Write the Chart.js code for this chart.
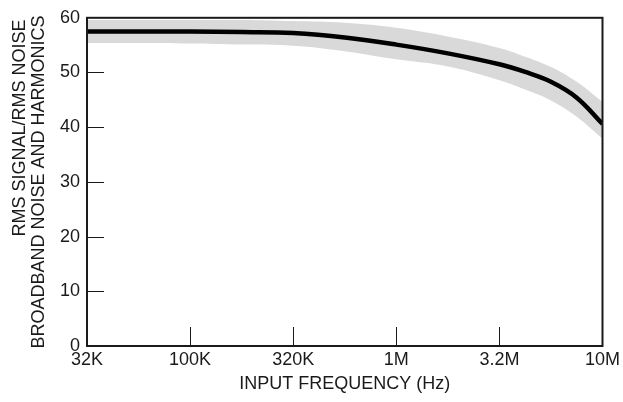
<!DOCTYPE html>
<html>
<head>
<meta charset="utf-8">
<script src="https://cdn.jsdelivr.net/npm/chart.js@4/dist/chart.umd.min.js"></script>
<style>
  body { margin: 0; background: #fff; }
  #wrap { width: 623px; height: 402px; }
</style>
</head>
<body>
<div id="wrap"><canvas id="snr" width="623" height="402"></canvas></div>
<script>
// frequencies (Hz): quarter decades, eighth decades above 3.2M
const freqs = [31623, 56234, 100000, 177828, 316228, 562341, 1000000, 1778279, 3162278, 4216965, 5623413, 7498942, 10000000];
const snrTypical = [57.5, 57.5, 57.5, 57.4, 57.2, 56.4, 55.1, 53.5, 51.5, 50.1, 48.3, 45.4, 40.6];
const snrUpper = [59.6, 59.6, 59.6, 59.6, 59.4, 59.1, 58.2, 56.6, 54.5, 52.9, 51.0, 48.3, 44.6];
const snrLower = [55.4, 55.4, 55.3, 55.1, 54.9, 53.9, 52.4, 51.1, 48.6, 46.9, 44.9, 41.9, 37.9];

const xTickValues = [31623, 100000, 316228, 1000000, 3162278, 10000000];
const xTickLabels = ['32K', '100K', '320K', '1M', '3.2M', '10M'];
const yTitleLines = ['RMS SIGNAL/RMS NOISE', 'BROADBAND NOISE AND HARMONICS'];

const FONT = "'Liberation Sans', Arial, sans-serif";
const INK = '#1a1a1a';

const pts = arr => arr.map((v, i) => ({ x: freqs[i], y: v }));

// inside ticks, frame and the two-line y title
const framePlugin = {
  id: 'frame',
  afterDraw(chart) {
    const { ctx, chartArea: a, scales } = chart;
    ctx.save();
    ctx.strokeStyle = INK;
    ctx.lineWidth = 1;
    ctx.beginPath();
    xTickValues.slice(1, -1).forEach(v => {
      const px = Math.round(scales.x.getPixelForValue(v)) + 0.5;
      ctx.moveTo(px, a.bottom);
      ctx.lineTo(px, a.bottom - 19);
    });
    scales.y.ticks.slice(1, -1).forEach(t => {
      const py = Math.round(scales.y.getPixelForValue(t.value)) + 0.5;
      ctx.moveTo(a.left, py);
      ctx.lineTo(a.left + 17, py);
    });
    ctx.stroke();

    ctx.lineWidth = 2;
    ctx.strokeRect(a.left, a.top, a.right - a.left, a.bottom - a.top);

    ctx.fillStyle = INK;
    ctx.font = '18px ' + FONT;
    ctx.textAlign = 'center';
    ctx.textBaseline = 'middle';
    ctx.translate(20, 128);
    ctx.rotate(-Math.PI / 2);
    ctx.fillText(yTitleLines[0], 0, 0);
    ctx.rotate(Math.PI / 2);
    ctx.translate(18.7, (a.top + a.bottom) / 2 - 128);
    ctx.rotate(-Math.PI / 2);
    ctx.fillText(yTitleLines[1], 0, 0);
    ctx.restore();
  }
};

new Chart(document.getElementById('snr'), {
  type: 'line',
  data: {
    datasets: [
      {
        data: pts(snrTypical),
        borderColor: '#000',
        borderWidth: 4.5,
        pointRadius: 0,
        tension: 0.4,
        fill: false
      },
      {
        data: pts(snrUpper),
        borderWidth: 0,
        borderColor: 'rgba(0,0,0,0)',
        backgroundColor: '#d9d9d9',
        pointRadius: 0,
        tension: 0.4,
        fill: '+1'
      },
      {
        data: pts(snrLower),
        borderWidth: 0,
        borderColor: 'rgba(0,0,0,0)',
        pointRadius: 0,
        tension: 0.4,
        fill: false
      }
    ]
  },
  options: {
    responsive: false,
    animation: false,
    layout: { padding: { top: 15, right: 20, left: 0, bottom: 0 } },
    plugins: { legend: { display: false }, tooltip: { enabled: false } },
    scales: {
      x: {
        type: 'logarithmic',
        min: 31623,
        max: 10000000,
        afterBuildTicks: s => { s.ticks = xTickValues.map(v => ({ value: v })); },
        afterFit: s => { s.height = 56; },
        grid: { display: false, drawTicks: false },
        border: { display: false },
        ticks: {
          padding: 3,
          maxRotation: 0,
          autoSkip: false,
          color: INK,
          font: { family: FONT, size: 18 },
          callback: (v, i) => xTickLabels[i]
        },
        title: {
          display: true,
          text: 'INPUT FREQUENCY (Hz)',
          color: INK,
          font: { family: FONT, size: 18 },
          padding: { top: 0, bottom: 7 }
        }
      },
      y: {
        min: 0,
        max: 60,
        afterFit: s => { s.width = 87; },
        grid: { display: false, drawTicks: false },
        border: { display: false },
        ticks: {
          stepSize: 10,
          padding: 7,
          color: INK,
          font: { family: FONT, size: 18 }
        }
      }
    }
  },
  plugins: [framePlugin]
});
</script>
</body>
</html>
